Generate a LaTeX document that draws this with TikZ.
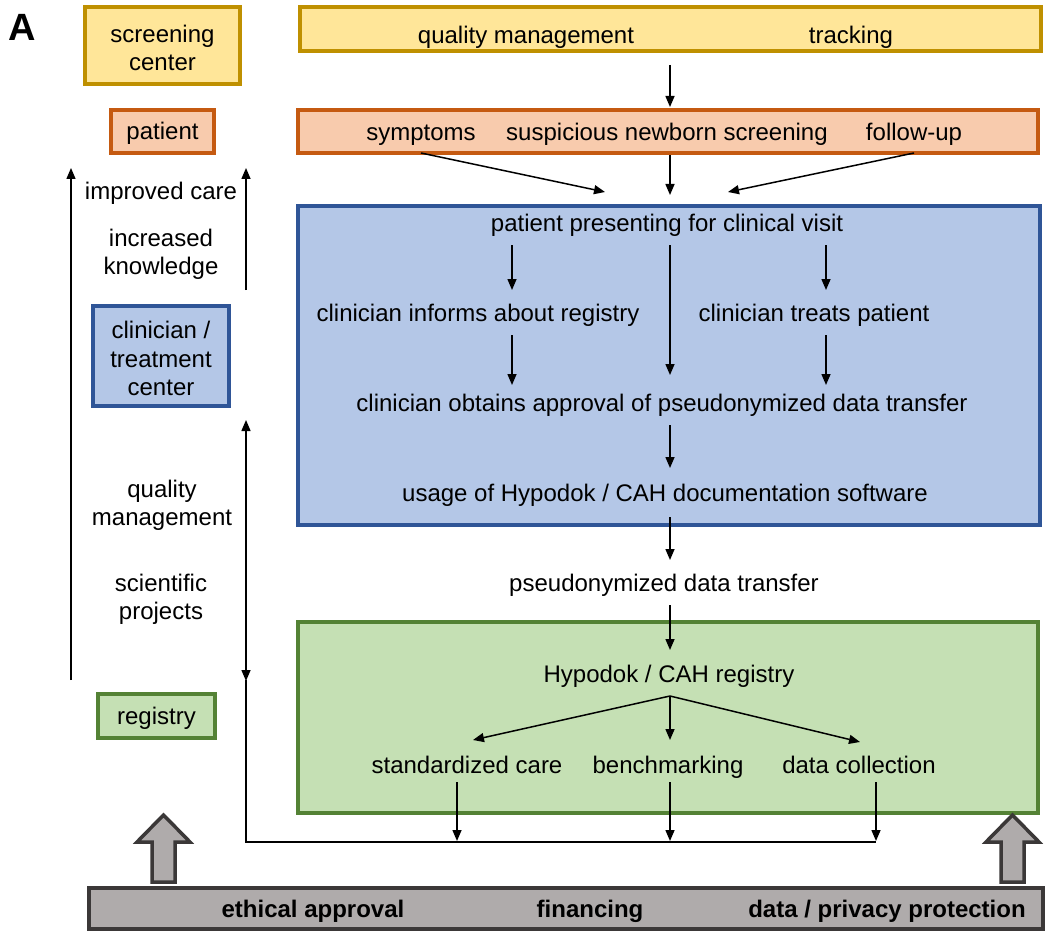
\documentclass[tikz,border=0pt]{standalone}
\usepackage{fontspec}
\setmainfont{Liberation Sans}
\usetikzlibrary{arrows.meta,calc}
\definecolor{yfill}{HTML}{FFE699}
\definecolor{ydraw}{HTML}{BF9000}
\definecolor{ofill}{HTML}{F8CBAD}
\definecolor{odraw}{HTML}{C55A11}
\definecolor{bfill}{HTML}{B4C7E7}
\definecolor{bdraw}{HTML}{2F5597}
\definecolor{gfill}{HTML}{C5E0B4}
\definecolor{gdraw}{HTML}{548235}
\definecolor{grfill}{HTML}{AFABAB}
\definecolor{grdraw}{HTML}{3B3838}
\begin{document}
\begin{tikzpicture}[x=1pt,y=-1pt,
  box/.style={draw, rectangle, line width=3.5pt, inner sep=0pt, outer sep=0pt},
  ybox/.style={box, draw=ydraw, fill=yfill},
  obox/.style={box, draw=odraw, fill=ofill},
  bbox/.style={box, draw=bdraw, fill=bfill},
  gbox/.style={box, draw=gdraw, fill=gfill},
  txt/.style={inner sep=0pt, yshift=-2.5pt, font=\fontsize{24}{28.5}\selectfont, text height=17pt, text depth=5pt},
  mtxt/.style={inner sep=0pt, yshift=-2.5pt, font=\fontsize{24}{28.5}\selectfont, align=center},
  btxt/.style={txt, font=\fontsize{24}{28.5}\selectfont\bfseries},
  arr/.style={line width=1.5pt, -{Triangle[length=11pt,width=9pt]}},
  darr/.style={line width=1.5pt, {Triangle[length=11pt,width=9pt]}-{Triangle[length=11pt,width=9pt]}},
  thin/.style={line width=1.2pt},
  blockarrow/.style={fill=grfill, draw=grdraw, line width=3.5pt, line join=miter}
]
\useasboundingbox (0,0) rectangle (1050,939);

% boxes
\node[ybox, minimum width=155pt, minimum height=77pt] (sc) at (162.5,45.5) {};
\node[ybox, minimum width=741pt, minimum height=44pt] (top) at (670.5,29) {};
\node[obox, minimum width=103pt, minimum height=43pt] (pat) at (162.5,131.5) {};
\node[obox, minimum width=740pt, minimum height=43pt] (obar) at (668,131.5) {};
\node[bbox, minimum width=742pt, minimum height=319pt] (blue) at (669,365.5) {};
\node[bbox, minimum width=136pt, minimum height=100pt] (clin) at (161,356) {};
\node[gbox, minimum width=740pt, minimum height=191pt] (green) at (668,717.5) {};
\node[gbox, minimum width=117pt, minimum height=44pt] (reg) at (156.5,716) {};

% box labels
\node[mtxt] (sctxt) at (sc.center) {screening\\center};
\node[txt] (pattxt) at (pat.center) {patient};
\node[mtxt] (clintxt) at (clin.center) {clinician /\\treatment\\center};
\node[txt] (regtxt) at (reg.center) {registry};

% block arrows
\draw[blockarrow] (163.5,815) -- (190,842) -- (175,842) -- (175,882) -- (152,882) -- (152,842) -- (137,842) -- cycle;
\draw[blockarrow] (1012.5,815) -- (1039,842) -- (1024,842) -- (1024,882) -- (1001,882) -- (1001,842) -- (986,842) -- cycle;

\node[box, draw=grdraw, fill=grfill, minimum width=954pt, minimum height=41pt] (bot) at (566,908.5) {};

% label A
\node[inner sep=0pt, font=\fontsize{38}{40}\selectfont\bfseries] (A) at (22,27) {A};

% texts
\node[txt] (qm) at (526,35) {quality management};
\node[txt] (tr) at (851,35) {tracking};
\node[txt] (sym) at (421,132) {symptoms};
\node[txt] (sns) at (667,132) {suspicious newborn screening};
\node[txt] (fu) at (914,132) {follow-up};
\node[txt] (ppc) at (667,223) {patient presenting for clinical visit};
\node[txt] (cia) at (478,313) {clinician informs about registry};
\node[txt] (ctp) at (814,313) {clinician treats patient};
\node[txt] (coa) at (662,403) {clinician obtains approval of pseudonymized data transfer};
\node[txt] (use) at (665,493) {usage of Hypodok / CAH documentation software};
\node[txt] (pdt) at (664,583) {pseudonymized data transfer};
\node[txt] (hcr) at (669,674) {Hypodok / CAH registry};
\node[txt] (stc) at (467,765) {standardized care};
\node[txt] (bm) at (668,765) {benchmarking};
\node[txt] (dc) at (859,765) {data collection};
\node[txt] (ic) at (161,191) {improved care};
\node[mtxt] (ik) at (161,252) {increased\\knowledge};
\node[mtxt] (qm2) at (162,503) {quality\\management};
\node[mtxt] (sp) at (161,597) {scientific\\projects};
\node[btxt] (ea) at (313,909) {ethical approval};
\node[btxt] (fin) at (590,909) {financing};
\node[btxt] (dpp) at (887,909) {data / privacy protection};

% coordinates
\coordinate (hub) at (670,696);
\coordinate (corner) at (246,842);

% arrows top
\draw[arr] (670,65) -- (670,107);
\draw[arr] (sym.south |- obar.south) -- (605,192);
\draw[arr] (670,155) -- (670,195);
\draw[arr] (fu.south |- obar.south) -- (728,192);
% in blue box
\draw[arr] (512,245) -- (512,290);
\draw[arr] (670,245) -- (670,375);
\draw[arr] (826,245) -- (826,290);
\draw[arr] (512,335) -- (512,385);
\draw[arr] (826,335) -- (826,385);
\draw[arr] (670,425) -- (670,468);
\draw[arr] (670,517) -- (670,560);
\draw[arr] (670,605) -- (670,650);
% green
\draw[arr] (hub) -- (473,740);
\draw[arr] (hub) -- (670,740);
\draw[arr] (hub) -- (860,742);
\draw[arr] (457,782) -- (457,841);
\draw[arr] (670,782) -- (670,841);
\draw[arr] (876,782) -- (876,841);
% left
\draw[arr] (71,680) -- (71,168);
\draw[arr] (246,290) -- (246,168);
\draw[darr] (246,420) -- (246,681);
\draw[thin] (246,680) -- (corner) -- (876,842);
\end{tikzpicture}
\end{document}
